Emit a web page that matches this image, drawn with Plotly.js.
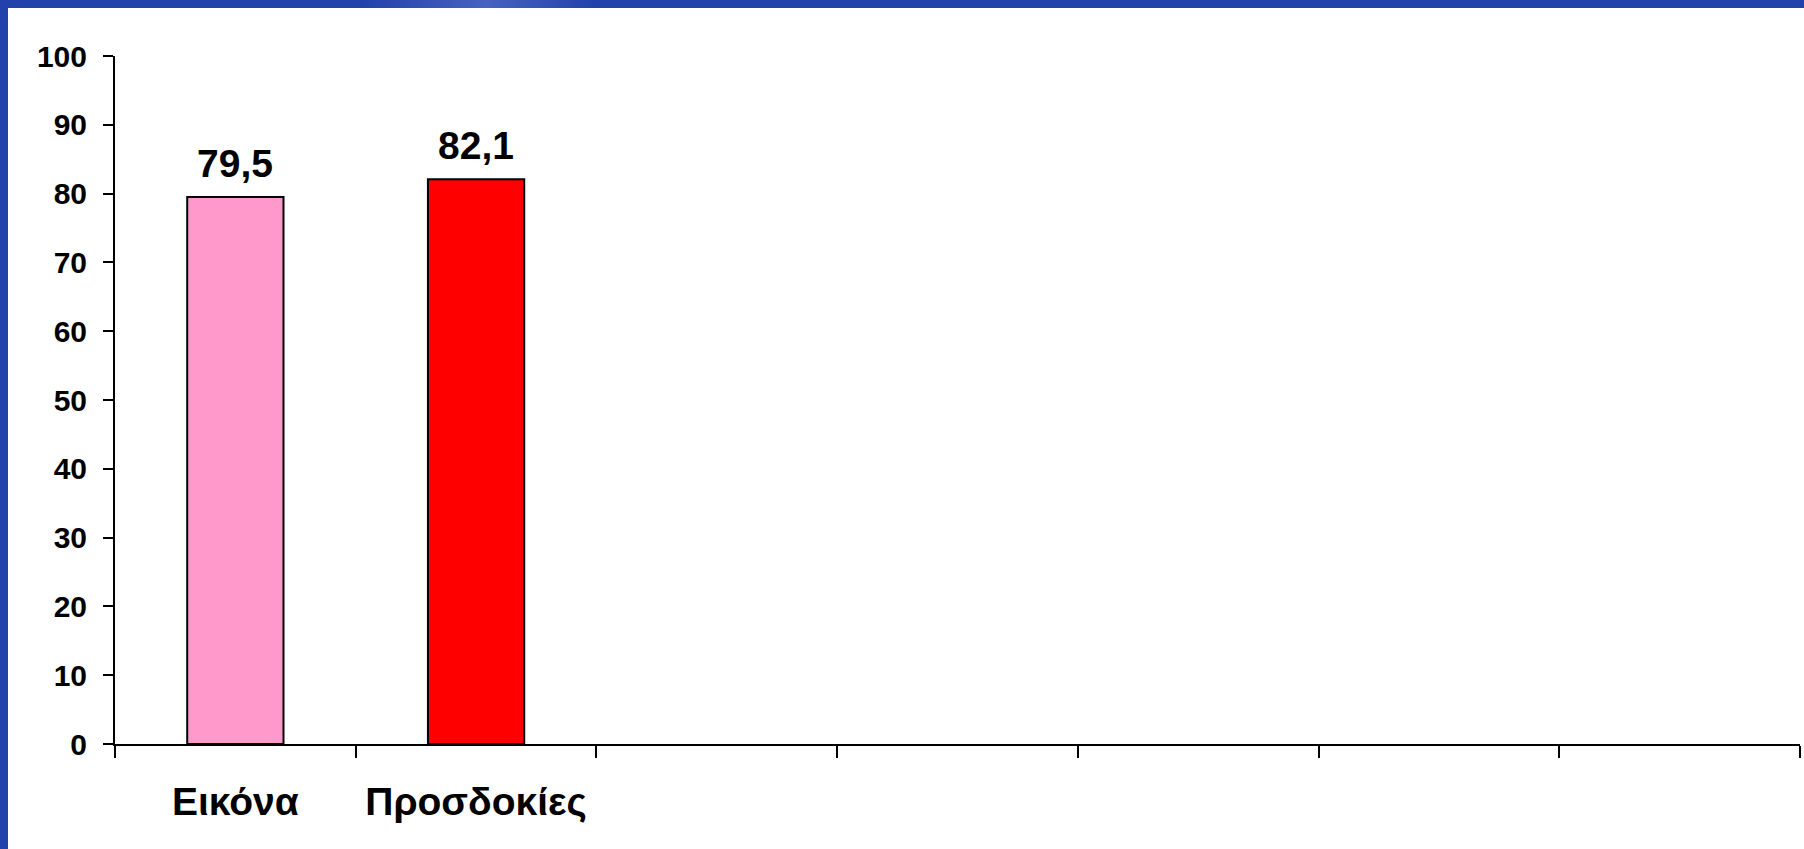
<!DOCTYPE html>
<html>
<head>
<meta charset="utf-8">
<script src="https://cdn.plot.ly/plotly-3.0.1.min.js"></script>
<style>
  html, body { margin: 0; padding: 0; }
  body {
    width: 1804px; height: 849px; overflow: hidden;
    background: #2241AB;
    position: relative;
  }
  #frame-glow {
    position: absolute; left: 0; top: 0; width: 1804px; height: 8px;
    background: linear-gradient(90deg, rgba(255,255,255,0) 20%, rgba(140,160,230,0.35) 27%, rgba(255,255,255,0) 33%);
  }
  #chart {
    position: absolute; left: 8px; top: 8px;
    width: 1796px; height: 841px; background: #ffffff;
  }
</style>
</head>
<body>
<div id="frame-glow"></div>
<div id="chart"></div>
<script>
  // Category labels and their values
  const categories = ["Εικόνα", "Προσδοκίες"];
  const values = [79.5, 82.1];
  const barColors = ["#FF99CC", "#FF0000"];
  // Unused slots on the category axis (kept blank)
  const blankSlots = [" ", "  ", "   ", "    ", "     "];
  const yTicks = [0, 10, 20, 30, 40, 50, 60, 70, 80, 90, 100];

  const FONT = "Liberation Sans, Arial, Helvetica, sans-serif";
  const allSlots = categories.concat(blankSlots);

  const fmt = v => v.toFixed(1).replace(".", ",");

  const trace = {
    type: "bar",
    x: categories,
    y: values,
    width: 0.4,
    marker: { color: barColors, line: { color: "#000000", width: 2 } },
    hoverinfo: "skip"
  };

  const annotations = categories.map((c, i) => ({
    x: c, y: values[i], xref: "x", yref: "y",
    text: fmt(values[i]),
    showarrow: false,
    yanchor: "bottom",
    yshift: 10,
    font: { family: FONT, size: 39, color: "#000000", weight: "bold" }
  }));

  const layout = {
    width: 1796, height: 841,
    margin: { l: 107, r: 4, t: 48, b: 105, pad: 0 },
    paper_bgcolor: "#ffffff",
    plot_bgcolor: "#ffffff",
    showlegend: false,
    separators: ",.",
    xaxis: {
      type: "category",
      categoryorder: "array",
      categoryarray: allSlots,
      range: [-0.5, allSlots.length - 0.5],
      tickson: "boundaries",
      ticks: "outside", ticklen: 12, tickwidth: 2, tickcolor: "#000000",
      showline: true, linecolor: "#000000", linewidth: 2,
      showgrid: false, zeroline: false,
      ticklabelstandoff: 22,
      tickfont: { family: FONT, size: 39, color: "#000000", weight: "bold" },
      fixedrange: true
    },
    yaxis: {
      range: [0, 100],
      tickvals: yTicks,
      ticktext: yTicks.map(String),
      ticks: "outside", ticklen: 10, tickwidth: 2, tickcolor: "#000000",
      showline: true, linecolor: "#000000", linewidth: 2,
      showgrid: false, zeroline: false,
      ticklabelstandoff: 10,
      tickfont: { family: FONT, size: 30, color: "#000000", weight: "bold" },
      fixedrange: true
    },
    annotations: annotations
  };

  Plotly.newPlot("chart", [trace], layout, { displayModeBar: false, staticPlot: true });
</script>
</body>
</html>
